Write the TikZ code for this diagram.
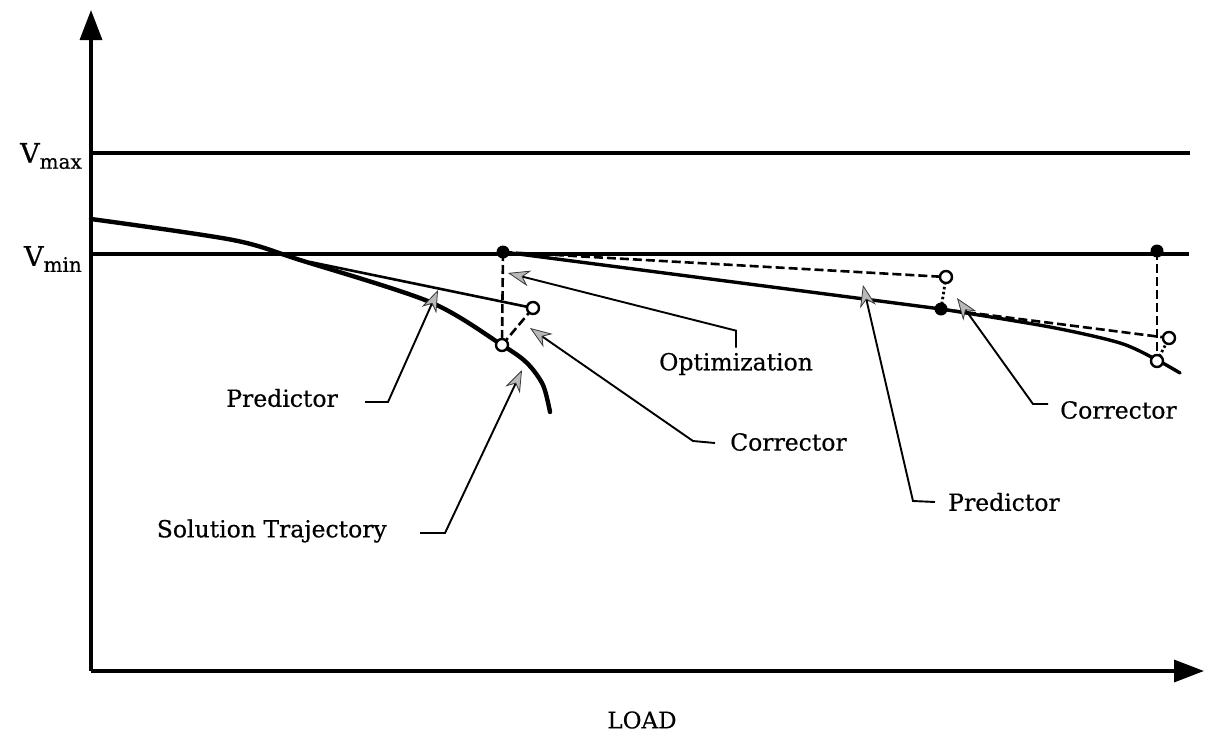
\documentclass[tikz,border=0pt]{standalone}
\usepackage{fontspec}
\setmainfont{DejaVu Serif}[FakeBold=0.5]
\usetikzlibrary{arrows.meta}
\begin{document}
\begin{tikzpicture}[x=1pt,y=-1pt,
  lbl/.style={font=\fontsize{23.5}{27}\selectfont, inner sep=0pt},
  axis/.style={line width=3.4pt, -{Triangle[length=30pt,width=22pt]}},
  limit/.style={line width=3.2pt},
  traj/.style={line width=4.4pt, line cap=round, line join=round},
  trajthin/.style={line width=3.4pt, line cap=round, line join=round},
  pred/.style={line width=2.6pt},
  dsh/.style={line width=2.6pt, dash pattern=on 9pt off 4pt},
  dtd/.style={line width=2.8pt, dash pattern=on 2.5pt off 2.5pt},
  opendot/.style={circle, draw, line width=2.4pt, fill=white, minimum size=12pt, inner sep=0pt},
  fulldot/.style={circle, fill, minimum size=13pt, inner sep=0pt},
  leader/.style={line width=1.9pt, -{Stealth[length=22pt,width=16pt,inset=7pt,fill=gray!55,color=gray!45!black,line width=0.8pt]}}
]
\useasboundingbox (0,0) rectangle (1205,736);

% axes
\coordinate (O) at (91,671);
\coordinate (ytop) at (91,10);
\coordinate (xend) at (1204,671);
\draw[axis] (O) -- (ytop);
\draw[axis] (O) -- (xend);
\node[font=\fontsize{23}{26}\selectfont] (load) at (642,720) {LOAD};

% voltage limits
\coordinate (vmaxL) at (91,153);
\coordinate (vmaxR) at (1190,153);
\coordinate (vminL) at (91,254);
\coordinate (vminR) at (1189,254);
\draw[limit] (vmaxL) -- (vmaxR);
\draw[limit] (vminL) -- (vminR);
\node[font=\fontsize{27}{30}\selectfont, anchor=east, inner sep=0pt] (vmax) at (82,156)
  {V\raisebox{-6pt}{\fontsize{20}{21}\selectfont max}};
\node[font=\fontsize{27}{30}\selectfont, anchor=east, inner sep=0pt] (vmin) at (82,259)
  {V\raisebox{-6pt}{\fontsize{20}{21}\selectfont min}};

% key points
\coordinate (d1) at (503,252);
\coordinate (c1a) at (502,345);
\coordinate (c1b) at (533,308);
\coordinate (c2) at (946,277);
\coordinate (d2) at (941,309);
\coordinate (d3) at (1157,251);
\coordinate (c3a) at (1157,361);
\coordinate (c3b) at (1169,338);
\coordinate (p1) at (310,262);

% first stage: trajectory, predictor, corrector
\draw[traj] plot[smooth, tension=0.5] coordinates
  {(91,219) (233,240) (300,260) (430,302) (502,345) (527,363) (543,385) (550,412)};
\draw[pred] (p1) -- (c1b);
\draw[dsh] (d1) -- (c1a);
\draw[dsh] (c1a) -- (c1b);

% second stage
\draw[trajthin] (d1) -- (d2);
\draw[dsh] (d1) -- (c2);
\draw[dtd] (c2) -- (d2);

% third stage
\draw[trajthin] plot[smooth, tension=0.5] coordinates
  {(941,309) (1050,327) (1120,343) (1157,360) (1180,373)};
\draw[dsh] (d2) -- (c3b);
\draw[dsh] (d3) -- (c3a);
\draw[dtd] (c3a) -- (c3b);

% markers
\node[fulldot] (n-d1) at (d1) {};
\node[fulldot] (n-d2) at (d2) {};
\node[fulldot] (n-d3) at (d3) {};
\node[opendot] (n-c1a) at (c1a) {};
\node[opendot] (n-c1b) at (c1b) {};
\node[opendot] (n-c2) at (c2) {};
\node[opendot] (n-c3a) at (c3a) {};
\node[opendot] (n-c3b) at (c3b) {};

% labels with leaders
\coordinate (tpredL) at (438,290);
\coordinate (tsol) at (522,370);
\coordinate (tcorM) at (530,328);
\coordinate (topt) at (508,273);
\coordinate (tpredR) at (863,285);
\coordinate (tcorR) at (957,298);

\node[lbl, anchor=east] (predL) at (338,398) {Predictor};
\node[lbl, anchor=east] (solT) at (387,531) {Solution Trajectory};
\node[lbl, anchor=west] (corM) at (730,442) {Corrector};
\node[lbl] (opt) at (736,364) {Optimization};
\node[lbl, anchor=west] (predR) at (948,502) {Predictor};
\node[lbl, anchor=west] (corR) at (1060,410) {Corrector};

\draw[leader] (predL.east) ++(27,4) -- ++(23,0) -- (tpredL);
\draw[leader] (solT.east) ++(33,2) -- ++(25,0) -- (tsol);
\draw[leader] (corM.west) ++(-15,1) -- ++(-22,-2) -- (tcorM);
\draw[leader] (opt.north) ++(0,-5) -- ++(0,-17) -- (topt);
\draw[leader] (predR.west) ++(-13,0) -- ++(-22,-1) -- (tpredR);
\draw[leader] (corR.west) ++(-12,-6) -- ++(-15,0) -- (tcorR);
\end{tikzpicture}
\end{document}
